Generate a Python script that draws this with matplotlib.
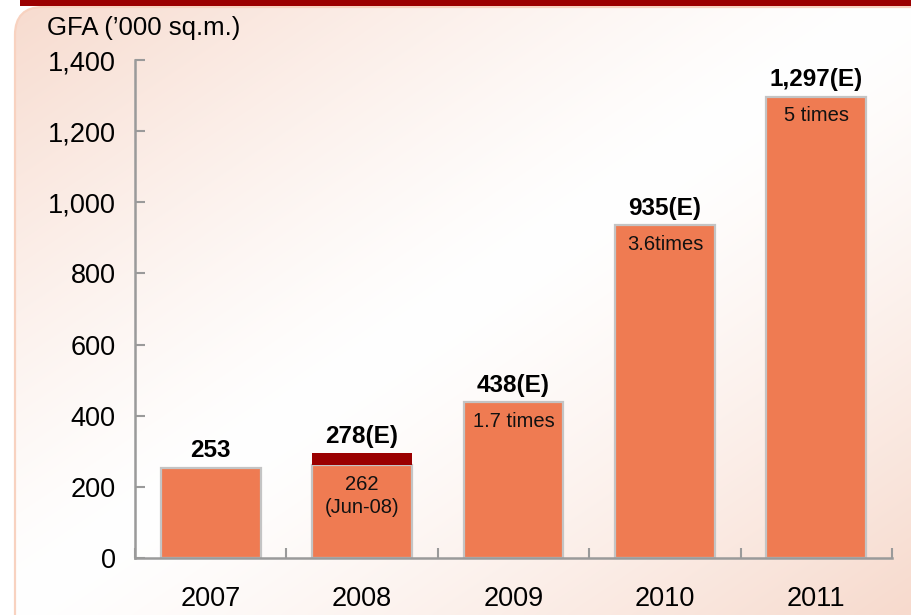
import numpy as np
import matplotlib
matplotlib.use("Agg")
import matplotlib.pyplot as plt
from matplotlib.patches import FancyBboxPatch, Rectangle

plt.rcParams['font.family'] = ['Liberation Sans', 'DejaVu Sans']

years = ['2007', '2008', '2009', '2010', '2011']
gfa_values = [253, 262, 438, 935, 1297]
top_labels = ['253', '278(E)', '438(E)', '935(E)', '1,297(E)']
inner_labels = ['', '262\n(Jun-08)', '1.7 times', '3.6times', '5 times']
cap_2008_value = 295          # visual top of dark-red 2008 estimate block
yticks = [0, 200, 400, 600, 800, 1000, 1200, 1400]
ytick_labels = ['0', '200', '400', '600', '800', '1,000', '1,200', '1,400']

W, H = 912, 615
fig = plt.figure(figsize=(W / 100, H / 100), dpi=100, facecolor='white')

# background gradient inside rounded frame
bg = fig.add_axes([0, 0, 1, 1], zorder=0)
bg.set_xlim(0, W)
bg.set_ylim(H, 0)
bg.axis('off')
xs = np.linspace(0, 1, 400)
ys = np.linspace(0, 1, 300)
XX, YY = np.meshgrid(xs, ys)
f = np.abs(XX + YY - 1.0)
g = np.clip(f, 0, 1) ** 1.3
peach = np.array([247, 218, 205]) / 255.0
white = np.array([1.0, 1.0, 1.0])
img = white[None, None, :] * (1 - g[..., None]) + peach[None, None, :] * g[..., None]
im = bg.imshow(img, extent=[0, W, H, 0], aspect='auto', interpolation='bilinear')
frame = FancyBboxPatch((15, 7), W + 40, H + 40,
                       boxstyle="round,pad=0,rounding_size=28",
                       facecolor='none', edgecolor='#F8D2C0', linewidth=1.6)
bg.add_patch(frame)
im.set_clip_path(frame)
bg.add_patch(Rectangle((20, 0), W - 20, 6, facecolor='#9B0000', edgecolor='none'))

# main chart
ax = fig.add_axes([135 / W, (H - 558) / H, (892 - 135) / W, (558 - 60) / H], zorder=1)
ax.patch.set_alpha(0)
x = np.arange(len(years))
bar_w = 0.66
ax.bar(x, gfa_values, width=bar_w, color='#EF7B52', edgecolor='#C4C4C4',
       linewidth=1.6, zorder=2)
ax.bar(x[1], cap_2008_value - gfa_values[1], bottom=gfa_values[1], width=bar_w,
       color='#9B0000', edgecolor='none', zorder=3)

tops = list(gfa_values)
tops[1] = cap_2008_value
for xi, t, lab in zip(x, tops, top_labels):
    ax.annotate(lab, (xi, t), xytext=(0, 4), textcoords='offset points',
                ha='center', va='bottom', fontsize=17.5, fontweight='bold', color='black')

for xi, v, lab in zip(x, gfa_values, inner_labels):
    if not lab:
        continue
    ax.annotate(lab, (xi, v), xytext=(0, -7), textcoords='offset points',
                ha='center', va='top', fontsize=14.5, color='#111111',
                linespacing=1.3)

ax.set_xlim(-0.5, len(years) - 0.5)
ax.set_ylim(0, 1400)
ax.set_yticks(yticks)
ax.set_yticklabels(ytick_labels)
ax.set_xticks(np.arange(-0.5, len(years), 1.0))
ax.set_xticklabels([])
ax.set_xticks(x, minor=True)
ax.set_xticklabels(years, minor=True)

for s in ['top', 'right']:
    ax.spines[s].set_visible(False)
for s in ['left', 'bottom']:
    ax.spines[s].set_color('#9A9A9A')
    ax.spines[s].set_linewidth(1.8)

ax.tick_params(axis='y', direction='in', length=7, width=1.5, color='#9A9A9A',
               labelsize=19.5, pad=14)
ax.tick_params(axis='x', which='major', direction='in', length=7, width=1.5,
               color='#9A9A9A')
ax.tick_params(axis='x', which='minor', length=0, labelsize=19.5, pad=20)

fig.text(47 / W, 1 - 35 / H, "GFA (\u2019000 sq.m.)", fontsize=18.5,
         ha='left', va='baseline', color='black')

fig.savefig('out.png', dpi=100, facecolor='white')
